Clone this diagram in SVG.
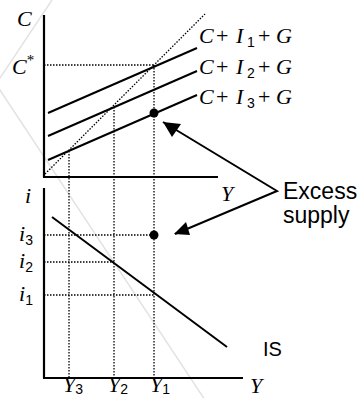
<svg xmlns="http://www.w3.org/2000/svg" width="358" height="398" viewBox="0 0 358 398">
<defs>
<style>
.ax{stroke:#000;stroke-width:2.2;fill:none}
.ln{stroke:#000;stroke-width:2;fill:none}
.dt{stroke:#000;stroke-width:1.3;stroke-dasharray:1.5 1.5;fill:none}
.wm{stroke:#e2e2e2;stroke-width:1.5;fill:none}
.m{font-family:"Liberation Serif","Times New Roman",serif;font-size:22px;fill:#000}
.it{font-style:italic}
.sub{font-family:"Liberation Sans",Arial,sans-serif;font-size:14px}
.s{font-family:"Liberation Sans",Arial,sans-serif;fill:#000}
</style>
</defs>
<g id="watermark">
<line class="wm" x1="52" y1="0" x2="-4" y2="84"/>
<line class="wm" x1="-4" y1="84" x2="205" y2="400"/>
</g>
<g id="top-graph">
<line class="ax" x1="44" y1="15" x2="44" y2="177"/>
<line class="ax" x1="43" y1="177" x2="218" y2="177"/>
<text class="m it" x="17" y="26">C</text>
<text class="m" x="12" y="74"><tspan class="it">C</tspan><tspan font-size="15" dy="-9">*</tspan></text>
<text class="m it" x="221" y="201">Y</text>
</g>
<g id="bottom-graph">
<line class="ax" x1="44" y1="188" x2="44" y2="378"/>
<line class="ax" x1="43" y1="378" x2="243" y2="378"/>
<text class="m it" x="25" y="203">i</text>
<text class="m" x="19" y="241"><tspan class="it">i</tspan><tspan class="sub" dy="4">3</tspan></text>
<text class="m" x="19" y="268"><tspan class="it">i</tspan><tspan class="sub" dy="4">2</tspan></text>
<text class="m" x="19" y="301"><tspan class="it">i</tspan><tspan class="sub" dy="4">1</tspan></text>
<text class="m" x="63" y="392"><tspan class="it">Y</tspan><tspan class="sub" dy="2">3</tspan></text>
<text class="m" x="108" y="392"><tspan class="it">Y</tspan><tspan class="sub" dy="2">2</tspan></text>
<text class="m" x="150" y="392"><tspan class="it">Y</tspan><tspan class="sub" dy="2">1</tspan></text>
<text class="m it" x="250" y="393">Y</text>
</g>
<g id="connectors">
<line class="dt" x1="45" y1="174" x2="205" y2="14"/>
<line class="dt" x1="44" y1="65" x2="154" y2="65"/>
<line class="dt" x1="69" y1="151" x2="69" y2="377"/>
<line class="dt" x1="114" y1="107" x2="114" y2="377"/>
<line class="dt" x1="154" y1="65" x2="154" y2="377"/>
<line class="dt" x1="44" y1="235" x2="154" y2="235"/>
<line class="dt" x1="44" y1="262" x2="114" y2="262"/>
<line class="dt" x1="44" y1="295" x2="154" y2="295"/>
<line class="ln" x1="48" y1="113" x2="197" y2="48"/>
<line class="ln" x1="48" y1="136" x2="197" y2="71"/>
<line class="ln" x1="48" y1="160" x2="197" y2="95"/>
<line class="ln" x1="52" y1="217" x2="227" y2="347"/>
<polyline class="ln" points="163,122 277,191 175,234" stroke-width="1.8"/>
<path d="M163,122 L181,124 L172,137 z" fill="#000"/>
<path d="M174,234 L186,222 L190,235 z" fill="#000"/>
</g>
<g id="points">
<circle cx="154" cy="113" r="4.5" fill="#000"/>
<circle cx="154" cy="235" r="4.5" fill="#000"/>
</g>
<g id="labels">
<text class="m" y="43"><tspan class="it" x="199">C</tspan><tspan x="216">+</tspan><tspan class="it" x="236">I</tspan><tspan class="sub" x="247" dy="4">1</tspan><tspan x="258" dy="-4">+</tspan><tspan class="it" x="276">G</tspan></text>
<text class="m" y="74"><tspan class="it" x="199">C</tspan><tspan x="216">+</tspan><tspan class="it" x="236">I</tspan><tspan class="sub" x="247" dy="4">2</tspan><tspan x="258" dy="-4">+</tspan><tspan class="it" x="276">G</tspan></text>
<text class="m" y="104"><tspan class="it" x="199">C</tspan><tspan x="216">+</tspan><tspan class="it" x="236">I</tspan><tspan class="sub" x="247" dy="4">3</tspan><tspan x="258" dy="-4">+</tspan><tspan class="it" x="276">G</tspan></text>
<text class="s" font-size="23" x="283" y="199">Excess</text>
<text class="s" font-size="23" x="283" y="223">supply</text>
<text class="s" font-size="20" x="263" y="356">IS</text>
</g>
</svg>
